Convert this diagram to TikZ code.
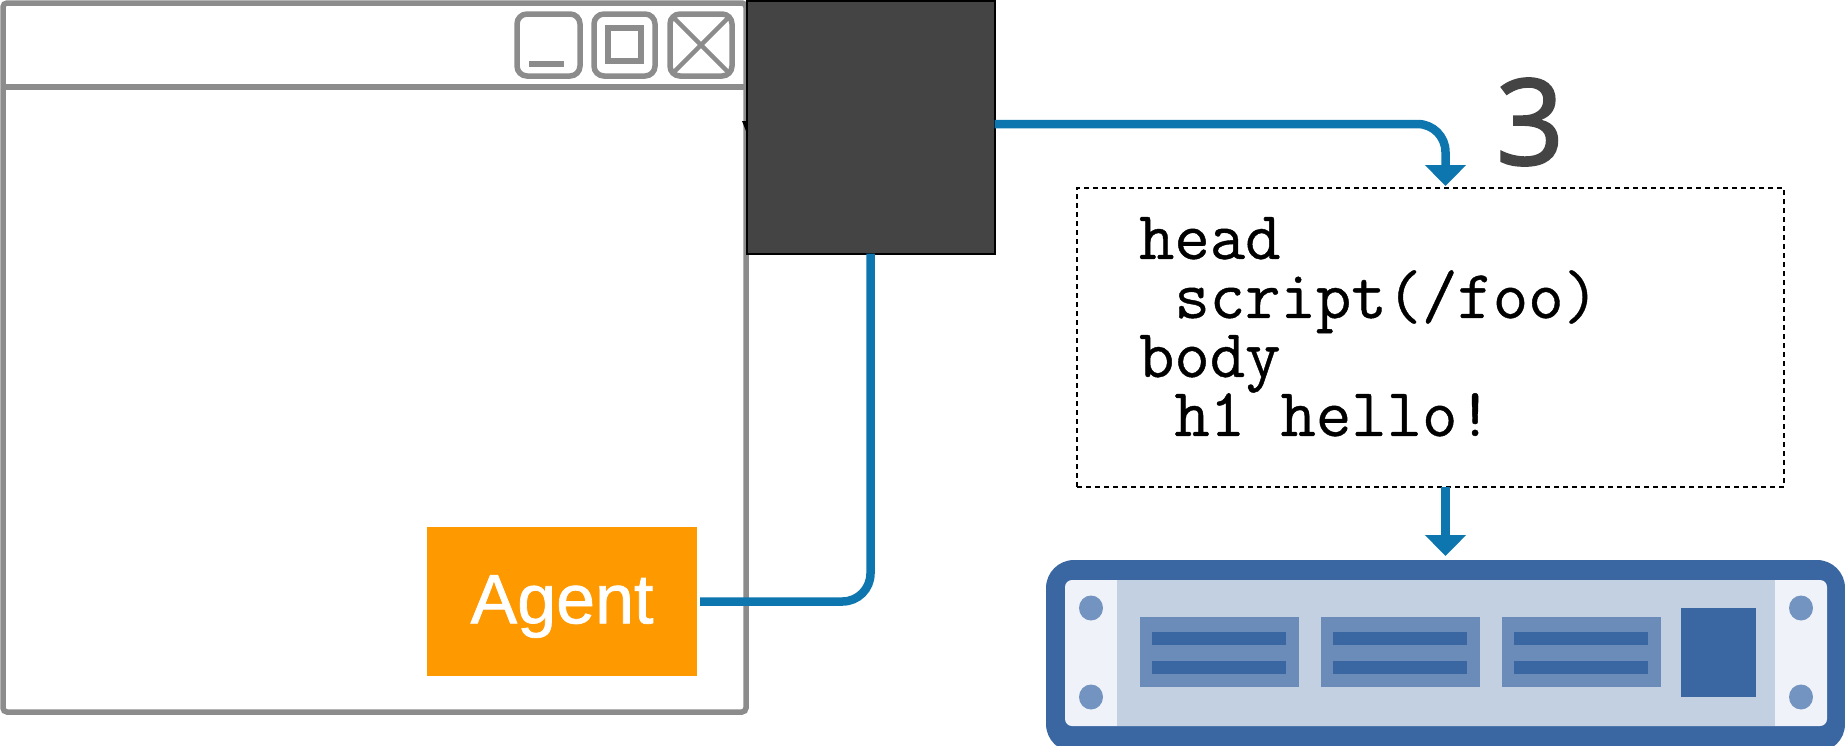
\documentclass[tikz,border=0pt]{standalone}
\usepackage{fontspec}
\setmainfont{Liberation Sans}
\setmonofont[FakeBold=0.6]{Latin Modern Mono}
\newfontfamily\digitfont[FakeBold=2]{Open Sans}
\newfontfamily\agentfont[FakeBold=1]{Liberation Sans}
\usetikzlibrary{arrows.meta}
\definecolor{wingray}{HTML}{8C8C8C}
\definecolor{boxdark}{HTML}{444444}
\definecolor{flow}{HTML}{0E76AE}
\definecolor{agentorange}{HTML}{FF9900}
\definecolor{srvdark}{HTML}{3A66A2}
\definecolor{srvmid}{HTML}{C2D0E2}
\definecolor{srvpale}{HTML}{EFF3F9}
\definecolor{srvhole}{HTML}{7393C0}
\definecolor{srvmod}{HTML}{6B8CB9}
\tikzset{
  x=1pt,y=-1pt,
  winline/.style={draw=wingray,line width=5.5pt},
  winbtn/.style={draw=wingray,line width=5.5pt,rounded corners=10pt},
  solidbox/.style={inner sep=0pt,outer sep=0pt},
  flowline/.style={draw=flow,line width=8.5pt,rounded corners=28pt},
  flowtip/.style={-{Triangle[width=40pt,length=21pt]}},
}
\begin{document}
\begin{tikzpicture}
\useasboundingbox (0,0) rectangle (1845,745);
% window
\node[solidbox,winline,rounded corners=4pt,fill=white,minimum width=743pt,minimum height=709pt] (window) at (374.5,357.5) {};
\draw[winline] (window.west |- 0,87) -- (window.east |- 0,87);
\draw[winbtn] (517,14) rectangle (580,76);
\draw[wingray,line width=6pt] (529,64) -- (564,64);
\draw[winbtn] (594,14) rectangle (655,76);
\draw[wingray,line width=5.5pt] (608,28) rectangle (641,61);
\draw[winbtn] (670,14) rectangle (732,76);
\draw[wingray,line width=4.5pt] (672,16) -- (730,74) (730,16) -- (672,74);
% tick behind the dark box
\fill[black] (742,121) -- (748,121) -- (748,136) -- cycle;
% dark box
\node[solidbox,draw=black,line width=2pt,fill=boxdark,minimum width=248pt,minimum height=253pt] (dark) at (870.5,127) {};
% agent
\node[solidbox,fill=agentorange,minimum width=270pt,minimum height=149pt] (agent) at (562,601.5) {};
\node[solidbox,text=white,font=\agentfont\fontsize{70}{70}\selectfont] (agentlabel) at (562,606.5) {Agent};
% code box
\node[solidbox,draw=black,line width=2pt,dash pattern=on 5pt off 4pt,minimum width=707pt,minimum height=299pt] (code) at (1430.5,337.5) {};
\node[solidbox,anchor=north west,align=left,font=\ttfamily\fontsize{68.7}{59}\selectfont] (codetext) at (1139,217) {head\\\ script(/foo)\\body\\\ h1 hello!};
\node[solidbox,text=boxdark,font=\digitfont\fontsize{119}{119}\selectfont] (three) at (1530,122) {3};
% server
\node[solidbox,fill=srvdark,rounded corners=28pt,minimum width=799pt,minimum height=192pt] (server) at (1445.5,656) {};
\fill[srvpale,rounded corners=7pt] (1065,580) rectangle (1827,726);
\fill[srvmid] (1117,580) rectangle (1775,726);
\foreach \cx in {1091,1801}\foreach \cy in {608,697}
  \fill[srvhole] (\cx,\cy) ellipse [x radius=12,y radius=12.5];
\foreach \mx in {1140,1321,1502}{
  \fill[srvmod] (\mx,617) rectangle +(159,70);
  \fill[srvdark] (\mx+12,632) rectangle +(134,13);
  \fill[srvdark] (\mx+12,661) rectangle +(134,13);
}
\fill[srvdark] (1681,608) rectangle (1756,697);
% connectors
\draw[flowline,shorten <=3pt] (agent.east) -| (dark.south);
\draw[flowline,flowtip,shorten >=2pt] ([yshift=3pt]dark.east) -| (server.north |- code.north);
\draw[flowline,flowtip,shorten >=4pt] (server.north |- code.south) -- (server.north);
\end{tikzpicture}
\end{document}
